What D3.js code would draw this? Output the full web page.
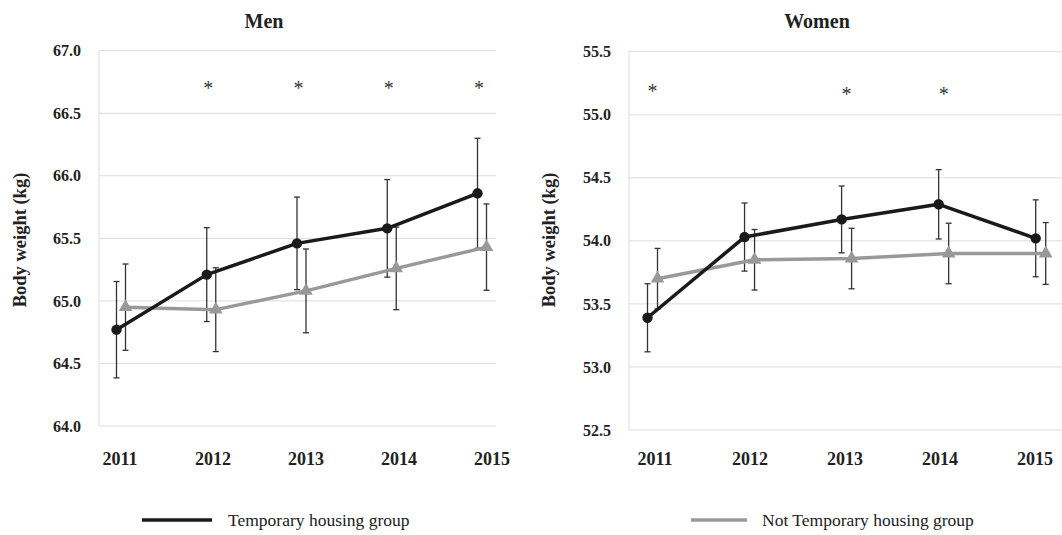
<!DOCTYPE html>
<html>
<head>
<meta charset="utf-8">
<script src="https://cdn.jsdelivr.net/npm/d3@7"></script>
<style>
  body { margin: 0; background: #fff; }
  svg { font-family: "Liberation Serif", "Times New Roman", serif; }
</style>
</head>
<body>
<div id="chart"></div>
<script>
// Chart data
const years = [2011, 2012, 2013, 2014, 2015];

const menTemp = [64.77, 65.21, 65.46, 65.58, 65.86];
const menTempErr = [0.385, 0.375, 0.37, 0.39, 0.44];
const menNotTemp = [64.95, 64.93, 65.08, 65.26, 65.43];
const menNotTempErr = [0.345, 0.335, 0.335, 0.33, 0.345];
const menStars = [2012, 2013, 2014, 2015];

const womenTemp = [53.39, 54.03, 54.17, 54.29, 54.02];
const womenTempErr = [0.27, 0.27, 0.265, 0.275, 0.305];
const womenNotTemp = [53.70, 53.85, 53.86, 53.90, 53.90];
const womenNotTempErr = [0.24, 0.24, 0.24, 0.24, 0.245];
const womenStars = [2011, 2013, 2014];

const menTicks = [64.0, 64.5, 65.0, 65.5, 66.0, 66.5, 67.0];
const womenTicks = [52.5, 53.0, 53.5, 54.0, 54.5, 55.0, 55.5];

const seriesNames = ['Temporary housing group', 'Not Temporary housing group'];
const colors = ['#1a1a1a', '#999999'];

const width = 1062, height = 535;

const svg = d3.select('#chart')
    .append('svg')
    .attr('width', width)
    .attr('height', height);

/**
 * Draws one panel
 */
function drawPanel(opt) {
    const g = svg.append('g');

    const x = d3.scaleLinear().domain([2011, 2015]).range(opt.xRange);
    const xLabel = d3.scaleLinear().domain([2011, 2015]).range(opt.labelRange);
    const y = d3.scaleLinear().domain(opt.yDomain).range([opt.yBottom, opt.yTop]);

    // Gridlines
    g.selectAll('.grid')
        .data(opt.ticks)
        .enter()
        .append('line')
        .attr('x1', opt.plotLeft)
        .attr('x2', opt.plotRight)
        .attr('y1', d => y(d))
        .attr('y2', d => y(d))
        .attr('stroke', '#dcdcdc')
        .attr('stroke-width', 1);

    // left axis line
    g.append('line')
        .attr('x1', opt.plotLeft).attr('x2', opt.plotLeft)
        .attr('y1', y(opt.yDomain[0])).attr('y2', y(opt.yDomain[1]))
        .attr('stroke', '#dcdcdc');

    // Y tick labels
    g.selectAll('.ytick')
        .data(opt.ticks)
        .enter()
        .append('text')
        .attr('x', opt.plotLeft - 18)
        .attr('y', d => y(d))
        .attr('dy', '0.35em')
        .attr('text-anchor', 'end')
        .style('font-size', '16px')
        .style('font-weight', 'bold')
        .attr('fill', '#222')
        .text(d => d.toFixed(1));

    // X tick labels
    g.selectAll('.xtick')
        .data(years)
        .enter()
        .append('text')
        .attr('x', d => xLabel(d))
        .attr('y', 465)
        .attr('text-anchor', 'middle')
        .style('font-size', '18px')
        .style('font-weight', 'bold')
        .attr('fill', '#222')
        .text(d => d);

    // Title
    g.append('text')
        .attr('x', opt.titleX)
        .attr('y', 28)
        .attr('text-anchor', 'middle')
        .style('font-size', '20px')
        .style('font-weight', 'bold')
        .attr('fill', '#222')
        .text(opt.title);

    // Y axis title
    g.append('text')
        .attr('transform', `translate(${opt.axisTitleX},240) rotate(-90)`)
        .attr('text-anchor', 'middle')
        .attr('dy', '0.35em')
        .style('font-size', '18.5px')
        .style('font-weight', 'bold')
        .attr('fill', '#222')
        .text('Body weight (kg)');

    const series = [
        { vals: opt.temp, err: opt.tempErr, off: -opt.offset, color: colors[0], shape: 'circle' },
        { vals: opt.notTemp, err: opt.notTempErr, off: opt.offset, color: colors[1], shape: 'triangle' }
    ];

    // error bars first, then lines and markers
    series.forEach(s => {
        const eb = g.append('g');
        years.forEach((yr, i) => {
            const cx = x(yr) + s.off;
            const top = y(s.vals[i] + s.err[i]);
            const bot = y(s.vals[i] - s.err[i]);
            eb.append('line').attr('x1', cx).attr('x2', cx).attr('y1', top).attr('y2', bot)
                .attr('stroke', '#333').attr('stroke-width', 1.3);
            [top, bot].forEach(yy => {
                eb.append('line').attr('x1', cx - 3).attr('x2', cx + 3).attr('y1', yy).attr('y2', yy)
                    .attr('stroke', '#333').attr('stroke-width', 1.3);
            });
        });
    });

    // draw gray first so black sits above
    [series[1], series[0]].forEach(s => {
        const line = d3.line()
            .x((d, i) => x(years[i]) + s.off)
            .y(d => y(d));
        g.append('path')
            .datum(s.vals)
            .attr('d', line)
            .attr('fill', 'none')
            .attr('stroke', s.color)
            .attr('stroke-width', 3.5)
            .attr('stroke-linejoin', 'round');

        const sym = s.shape === 'circle' ? d3.symbolCircle : d3.symbolTriangle;
        const size = s.shape === 'circle' ? 85 : 80;
        g.selectAll(null)
            .data(s.vals)
            .enter()
            .append('path')
            .attr('d', d3.symbol().type(sym).size(size))
            .attr('transform', (d, i) => `translate(${x(years[i]) + s.off},${y(d)})`)
            .attr('fill', s.color);
    });

    // significance stars
    g.selectAll('.star')
        .data(opt.stars)
        .enter()
        .append('text')
        .attr('x', d => x(d) + opt.starOffset)
        .attr('y', d => y(opt.starY(d)))
        .attr('text-anchor', 'middle')
        .attr('dy', '0.7em')
        .style('font-size', '20px')
        .attr('fill', '#333')
        .text('*');
}

drawPanel({
    title: 'Men', titleX: 264, axisTitleX: 20,
    plotLeft: 99, plotRight: 496,
    xRange: [121, 482], labelRange: [120, 492], offset: 4.5,
    yDomain: [64.0, 67.0], yBottom: 426, yTop: 50.7,
    ticks: menTicks,
    temp: menTemp, tempErr: menTempErr,
    notTemp: menNotTemp, notTempErr: menNotTempErr,
    stars: menStars, starOffset: -3, starY: () => 66.76
});

drawPanel({
    title: 'Women', titleX: 817, axisTitleX: 549,
    plotLeft: 629, plotRight: 1062,
    xRange: [652.5, 1040.7], labelRange: [655, 1035], offset: 5,
    yDomain: [52.5, 55.5], yBottom: 430, yTop: 51.7,
    ticks: womenTicks,
    temp: womenTemp, tempErr: womenTempErr,
    notTemp: womenNotTemp, notTempErr: womenNotTempErr,
    stars: womenStars, starOffset: 0, starY: d => d === 2011 ? 55.24 : 55.22
});

// Legend
const legend = svg.append('g');
const legendItems = [
    { name: seriesNames[0], color: colors[0], x1: 142, x2: 212, tx: 228 },
    { name: seriesNames[1], color: colors[1], x1: 691, x2: 747, tx: 762 }
];
legendItems.forEach(d => {
    legend.append('line')
        .attr('x1', d.x1).attr('x2', d.x2)
        .attr('y1', 520).attr('y2', 520)
        .attr('stroke', d.color).attr('stroke-width', 3.5);
    legend.append('text')
        .attr('x', d.tx).attr('y', 520)
        .attr('dy', '0.35em')
        .style('font-size', '17.5px')
        .attr('fill', '#222')
        .text(d.name);
});
</script>
</body>
</html>
